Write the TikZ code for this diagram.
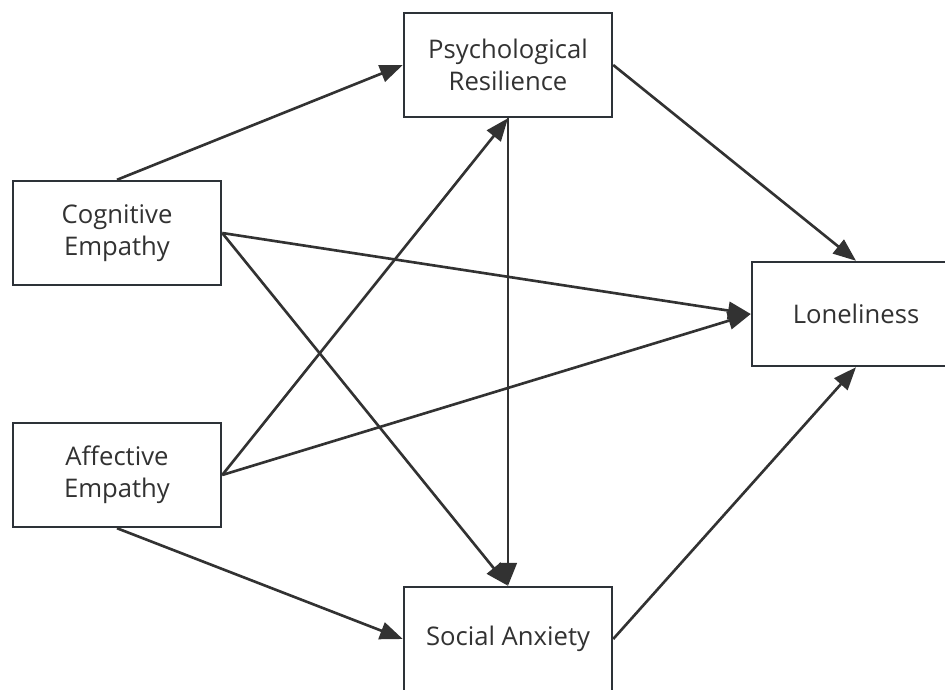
\documentclass[tikz,border=0pt]{standalone}
\usepackage{fontspec}
\setmainfont{Open Sans}
\usepackage{tikz}
\usetikzlibrary{arrows.meta, positioning}
\definecolor{boxline}{RGB}{45, 50, 56}
\definecolor{inkgray}{RGB}{50, 50, 50}

\begin{document}
\begin{tikzpicture}[
  x=0.02cm, y=-0.02cm,
  vbox/.style={draw=boxline, line width=1.4pt, fill=white, minimum width=4.16cm, minimum height=2.08cm, inner sep=0pt, align=center, text=inkgray, font=\fontsize{14.6pt}{18pt}\selectfont},
  pathline/.style={draw=inkgray, line width=1.5pt, -{Triangle[length=13pt, width=10pt]}}
]
  \useasboundingbox (0,0) rectangle (945,689);
  \node[vbox] (resil) at (508, 65) {Psychological\\Resilience};
  \node[vbox] (cogemp) at (117, 233) {Cognitive\\Empathy};
  \node[vbox] (affemp) at (117, 475) {Affective\\Empathy};
  \node[vbox] (lonely) at (856, 314) {Loneliness};
  \node[vbox] (socanx) at (508, 639) {Social Anxiety};

  \draw[pathline] (cogemp.north) -- (resil.west);
  \draw[pathline] (cogemp.east) -- (lonely.west);
  \draw[pathline] (cogemp.east) -- (socanx.north);
  \draw[pathline] (affemp.east) -- (resil.south);
  \draw[pathline] (affemp.east) -- (lonely.west);
  \draw[pathline] (affemp.south) -- (socanx.west);
  \draw[pathline] (resil.south) -- (socanx.north);
  \draw[pathline] (resil.east) -- (lonely.north);
  \draw[pathline] (socanx.east) -- (lonely.south);
\end{tikzpicture}
\end{document}
